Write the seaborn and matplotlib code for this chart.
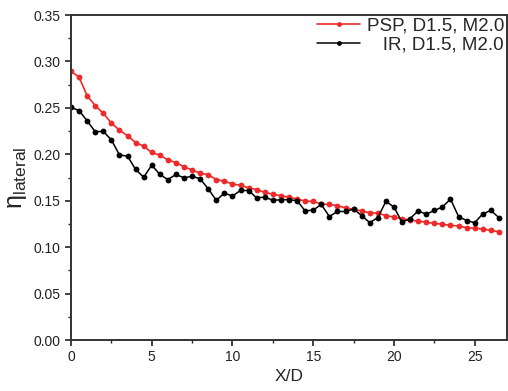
#!/usr/bin/env python3
# -*- coding: utf-8 -*-
"""
Lateral-averaged film cooling effectiveness: PSP vs IR (D1.5, M2.0)
"""
import numpy as np
import pandas as pd
import matplotlib
matplotlib.use("Agg")
import matplotlib.pyplot as plt
import seaborn as sns
from matplotlib.ticker import MultipleLocator

sns.set_theme(style="ticks")
plt.rcParams['font.family'] = ['Liberation Sans', 'DejaVu Sans']
plt.rcParams['mathtext.fontset'] = 'custom'
plt.rcParams['mathtext.rm'] = 'Liberation Sans'
plt.rcParams['mathtext.it'] = 'Liberation Sans:italic'

# X/D grid, one point every 0.5 diameters
xd = np.arange(0, 27, 0.5)

psp_eta = [0.2895, 0.283, 0.263, 0.2525, 0.244, 0.2337, 0.226, 0.220, 0.2127, 0.2087,
           0.202, 0.199, 0.194, 0.191, 0.1866, 0.183, 0.1797, 0.178, 0.1728, 0.171,
           0.168, 0.1666, 0.1638, 0.162, 0.159, 0.157, 0.1554, 0.1536, 0.1518, 0.1496,
           0.1493, 0.1464, 0.146, 0.1446, 0.1424, 0.1406, 0.139, 0.137, 0.1366, 0.134,
           0.1323, 0.1304, 0.1293, 0.128, 0.1268, 0.1257, 0.1246, 0.1235, 0.1228, 0.121,
           0.1203, 0.1196, 0.118, 0.1166]

ir_eta = [0.2507, 0.247, 0.236, 0.2243, 0.2247, 0.2155, 0.1993, 0.198, 0.1837, 0.1753,
          0.1884, 0.1783, 0.1728, 0.1783, 0.1746, 0.1764, 0.1736, 0.1627, 0.1504, 0.1583,
          0.155, 0.1612, 0.1609, 0.153, 0.154, 0.1504, 0.1511, 0.1511, 0.150, 0.1391,
          0.1399, 0.146, 0.133, 0.1384, 0.1384, 0.141, 0.134, 0.1264, 0.1318, 0.1493,
          0.1432, 0.1268, 0.1308, 0.1391, 0.1355, 0.1395, 0.1432, 0.1518, 0.133, 0.1286,
          0.1264, 0.1358, 0.1395, 0.1318]

labels = ['PSP, D1.5, M2.0', '   IR, D1.5, M2.0']

df_psp = pd.DataFrame({'xd': xd, 'eta': psp_eta})
df_ir = pd.DataFrame({'xd': xd, 'eta': ir_eta})

fig = plt.figure(figsize=(5.08, 3.91), dpi=100)
ax = fig.add_axes([0.1398, 0.1304, 0.8582, 0.8312])

sns.lineplot(data=df_psp, x='xd', y='eta', ax=ax, color='#ee2a2a', lw=1.2,
             marker='o', markersize=4.2, markeredgewidth=0, label=labels[0])
sns.lineplot(data=df_ir, x='xd', y='eta', ax=ax, color='black', lw=1.1,
             marker='o', markersize=4.2, markeredgewidth=0, label=labels[1])

ax.set_xlim(0, 27)
ax.set_ylim(0, 0.35)
ax.xaxis.set_major_locator(MultipleLocator(5))
ax.xaxis.set_minor_locator(MultipleLocator(2.5))
ax.yaxis.set_major_locator(MultipleLocator(0.05))
ax.yaxis.set_minor_locator(MultipleLocator(0.025))
ax.yaxis.set_major_formatter(matplotlib.ticker.FormatStrFormatter('%.2f'))

ax.tick_params(which='major', direction='out', length=4, width=1.2, labelsize=10,
               colors='#222222', top=False, right=False)
ax.tick_params(which='minor', direction='out', length=2.5, width=1.0,
               top=False, right=False)
for s in ax.spines.values():
    s.set_linewidth(1.4)
    s.set_color('#333333')
    s.set_visible(True)

ax.set_xlabel('X/D', fontsize=12.5, labelpad=3)
ax.set_ylabel(r'$\mathrm{\eta}_{\mathrm{lateral}}$', fontsize=18, labelpad=3)

leg = ax.legend(loc='upper right', bbox_to_anchor=(1.0, 1.0), frameon=False,
                fontsize=13.5, handlelength=2.3, handletextpad=0.35,
                borderpad=0.15, borderaxespad=0.0, labelspacing=0.1)
for h in leg.legend_handles:
    h.set_markersize(3.5)

plt.savefig('out.png', dpi=100)
